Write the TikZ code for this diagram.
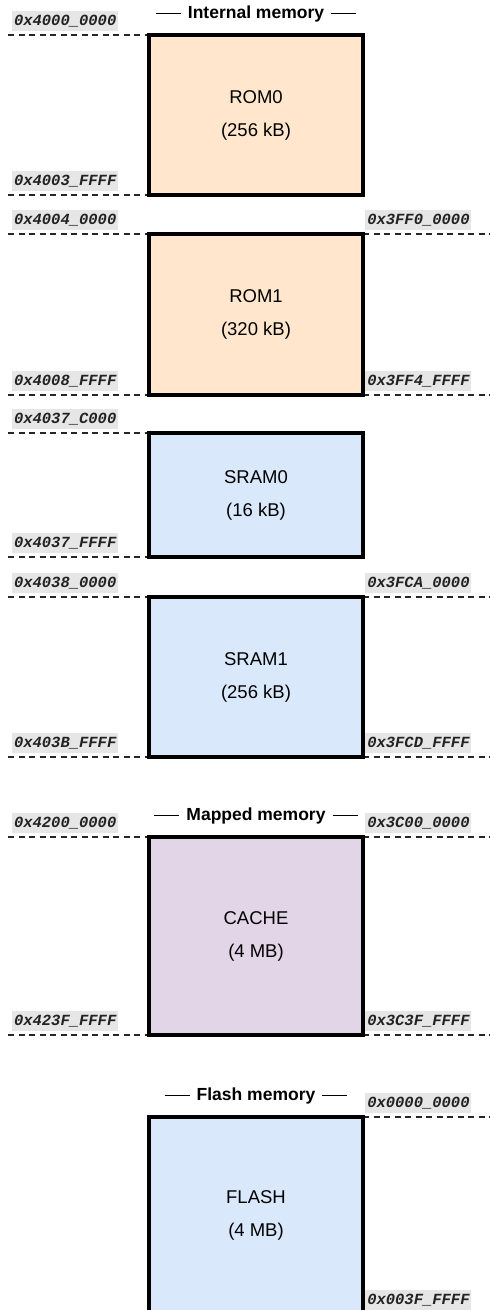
\documentclass[tikz,border=0pt]{standalone}
\usepackage{fontspec}
\setmainfont{Liberation Sans}
\newfontfamily\addrfont{Liberation Mono}
\definecolor{romfill}{HTML}{FFE6CC}
\definecolor{ramfill}{HTML}{DAE8FC}
\definecolor{cachefill}{HTML}{E1D5E7}
\definecolor{addrbg}{HTML}{E6E6E6}
\definecolor{addrtxt}{HTML}{222222}
\tikzset{
  membox/.style={draw=black, line width=3.5pt, minimum width=214pt, inner sep=0pt, outer sep=0pt,
    align=center, font=\fontsize{18.5}{33}\selectfont},
  dline/.style={draw=black!85, line width=1.3pt, dash pattern=on 6pt off 4.5pt},
  addr/.style={fill=addrbg, text=addrtxt, minimum width=106pt, minimum height=20pt, inner sep=0pt,
    font=\addrfont\bfseries\itshape\fontsize{15.5}{18}\selectfont},
  sectitle/.style={anchor=base, font=\bfseries\fontsize{17.5}{20}\selectfont, inner sep=0pt},
}
\newcommand\titlebar{\rule[4.3pt]{25pt}{1.6pt}}
\begin{document}
\begin{tikzpicture}[x=1pt,y=-1pt]
\useasboundingbox (0,0) rectangle (490,1310);
\clip (0,0) rectangle (490,1310);
\coordinate (lx) at (8,0);
\coordinate (rx) at (490,0);
\node[membox, fill=romfill, minimum height=160pt] (rom0) at (256,115) {ROM0\\(256 kB)};
\node[membox, fill=romfill, minimum height=161pt] (rom1) at (256,314.5) {ROM1\\(320 kB)};
\node[membox, fill=ramfill, minimum height=124pt] (sram0) at (256,495) {SRAM0\\(16 kB)};
\node[membox, fill=ramfill, minimum height=160pt] (sram1) at (256,677) {SRAM1\\(256 kB)};
\node[membox, fill=cachefill, minimum height=198pt] (cache) at (256,936) {CACHE\\(4 MB)};
\node[membox, fill=ramfill, minimum height=197pt] (flash) at (256,1215.5) {FLASH\\(4 MB)};
% left address labels
\foreach \n/\a/\t in {rom0/north west/0x4000\_0000, rom0/south west/0x4003\_FFFF,
  rom1/north west/0x4004\_0000, rom1/south west/0x4008\_FFFF,
  sram0/north west/0x4037\_C000, sram0/south west/0x4037\_FFFF,
  sram1/north west/0x4038\_0000, sram1/south west/0x403B\_FFFF,
  cache/north west/0x4200\_0000, cache/south west/0x423F\_FFFF}{
  \draw[dline] (\n.\a -| lx) -- (\n.\a);
  \node[addr, anchor=south west, xshift=4pt, yshift=4pt] at (\n.\a -| lx) {\t};
}
% right address labels
\foreach \n/\a/\t in {rom1/north east/0x3FF0\_0000, rom1/south east/0x3FF4\_FFFF,
  sram1/north east/0x3FCA\_0000, sram1/south east/0x3FCD\_FFFF,
  cache/north east/0x3C00\_0000, cache/south east/0x3C3F\_FFFF,
  flash/north east/0x0000\_0000}{
  \draw[dline] (\n.\a) -- (\n.\a -| rx);
  \node[addr, anchor=south west, xshift=2.25pt, yshift=4pt] at (\n.\a) {\t};
}
\node[addr, anchor=south west, xshift=2.25pt, yshift=4pt] (flashend) at (flash.south east) {0x003F\_FFFF};
% redraw box borders on top of dashed lines
\foreach \n in {rom0,rom1,sram0,sram1,cache,flash}{
  \draw[line width=3.5pt] (\n.north west) rectangle (\n.south east);
}
% section titles
\node[sectitle, yshift=16.5pt] (t1) at (rom0.north) {\titlebar\hspace{7pt}Internal memory\hspace{7pt}\titlebar};
\node[sectitle, yshift=16.5pt] (t2) at (cache.north) {\titlebar\hspace{7pt}Mapped memory\hspace{7pt}\titlebar};
\node[sectitle, yshift=16.5pt] (t3) at (flash.north) {\titlebar\hspace{7pt}Flash memory\hspace{7pt}\titlebar};
\end{tikzpicture}
\end{document}
